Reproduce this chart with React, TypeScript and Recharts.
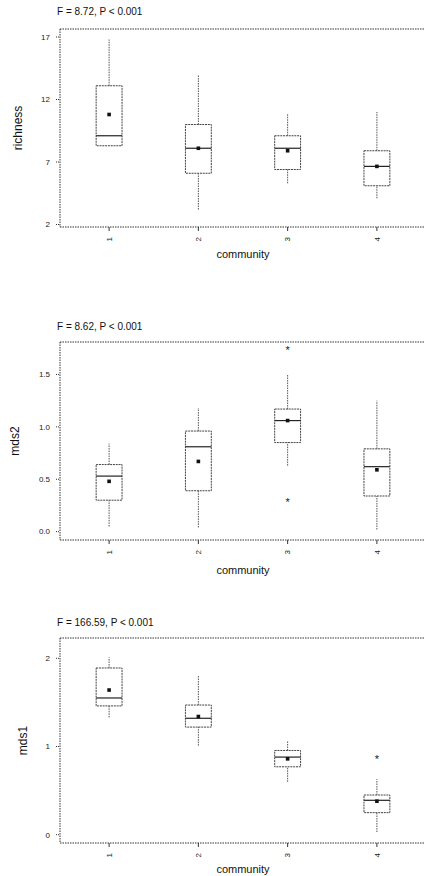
import React from 'react';
import { ComposedChart, XAxis, YAxis, Scatter, ReferenceArea, ReferenceLine } from 'recharts';

const communities = [1, 2, 3, 4];

// richness panel
const richnessLow = [8.3, 3.2, 5.3, 4.1];
const richnessQ1 = [8.3, 6.1, 6.4, 5.1];
const richnessMedian = [9.1, 8.1, 8.1, 6.65];
const richnessQ3 = [13.1, 10.0, 9.1, 7.9];
const richnessHigh = [16.8, 14.0, 10.9, 11.0];
const richnessMean = [10.8, 8.1, 7.9, 6.65];
const richnessOutliers: { x: number; y: number }[] = [];
const richnessTicks = [2, 7, 12, 17];

// mds2 panel
const mds2Low = [0.05, 0.04, 0.63, 0.02];
const mds2Q1 = [0.30, 0.39, 0.85, 0.34];
const mds2Median = [0.53, 0.81, 1.06, 0.62];
const mds2Q3 = [0.64, 0.96, 1.17, 0.79];
const mds2High = [0.84, 1.18, 1.5, 1.25];
const mds2Mean = [0.48, 0.67, 1.06, 0.59];
const mds2Outliers = [
  { x: 3, y: 1.73 },
  { x: 3, y: 0.28 },
];
const mds2Ticks = [0, 0.5, 1.0, 1.5];

// mds1 panel
const mds1Low = [1.33, 1.01, 0.6, 0.03];
const mds1Q1 = [1.46, 1.22, 0.77, 0.25];
const mds1Median = [1.55, 1.32, 0.88, 0.39];
const mds1Q3 = [1.89, 1.47, 0.955, 0.45];
const mds1High = [2.01, 1.8, 1.06, 0.63];
const mds1Mean = [1.64, 1.34, 0.86, 0.38];
const mds1Outliers = [{ x: 4, y: 0.86 }];
const mds1Ticks = [0, 1, 2];

const FONT = '"Liberation Sans", Arial, sans-serif';
const INK = '#333';
const HALF = 0.145;

const RotatedTick = (props: any) => {
  const { x, y, payload } = props;
  return (
    <g transform={`translate(${x},${y})`}>
      <text transform="rotate(-90)" textAnchor="end" dy="0.35em" fontSize={8} fill="#222" fontFamily={FONT}>
        {payload.value}
      </text>
    </g>
  );
};

const MeanDot = (props: any) => {
  const { cx, cy } = props;
  return <rect x={cx - 1.8} y={cy - 1.8} width={3.6} height={3.6} fill="#111" />;
};

const Star = (props: any) => {
  const { cx, cy } = props;
  return (
    <text x={cx} y={cy + 4} textAnchor="middle" fontSize={11} fill="#222" fontFamily={FONT}>
      *
    </text>
  );
};

interface PanelProps {
  top: number;
  plotTop: number;
  plotBottom: number;
  title: string;
  titleY: number;
  yLabel: string;
  yLabelX: number;
  labelOffset: number;
  domain: [number, number];
  ticks: number[];
  decimals: number;
  low: number[];
  q1: number[];
  median: number[];
  q3: number[];
  high: number[];
  mean: number[];
  outliers: { x: number; y: number }[];
}

const BoxPanel: React.FC<PanelProps> = (p) => {
  const means = communities.map((c, i) => ({ x: c, y: p.mean[i] }));
  const height = p.plotBottom + 45;
  return (
    <div style={{ position: 'absolute', left: 0, top: p.top, width: 440, height }}>
      <div
        style={{
          position: 'absolute',
          left: 57,
          top: p.titleY - 7,
          fontSize: 10,
          fontFamily: FONT,
          color: '#111',
          whiteSpace: 'nowrap',
          lineHeight: '14px',
        }}
      >
        {p.title}
      </div>
      <ComposedChart
        width={440}
        height={height}
        margin={{ top: p.plotTop, right: 14, bottom: 5, left: 0 }}
      >
        <XAxis
          type="number"
          dataKey="x"
          domain={[0.45, 4.55]}
          ticks={communities}
          allowDataOverflow
          height={40}
          tickSize={4}
          tickMargin={6}
          tick={<RotatedTick />}
          axisLine={{ stroke: INK, strokeDasharray: '1.5 1' }}
          tickLine={{ stroke: INK }}
          label={{
            value: 'community',
            position: 'insideBottom',
            offset: p.labelOffset,
            style: { fontSize: 11, fontFamily: FONT, fill: '#111' },
          }}
        />
        <YAxis
          type="number"
          dataKey="y"
          domain={p.domain}
          ticks={p.ticks}
          allowDataOverflow
          width={60}
          tickSize={4}
          tickMargin={6}
          tickFormatter={(v: number) => v.toFixed(p.decimals)}
          tick={{ fontSize: 8, fontFamily: FONT, fill: '#222' }}
          axisLine={{ stroke: INK, strokeDasharray: '1.5 1' }}
          tickLine={{ stroke: INK, strokeDasharray: '1 1' }}
          label={{
            value: p.yLabel,
            angle: -90,
            position: 'insideLeft',
            offset: p.yLabelX,
            style: { fontSize: 12, fontFamily: FONT, fill: '#111', textAnchor: 'middle' },
          }}
        />
        <ReferenceLine y={p.domain[1]} stroke={INK} strokeDasharray="1.5 1" />
        {communities.map((c, i) => (
          <ReferenceLine
            key={`wh-${c}`}
            segment={[
              { x: c, y: p.q3[i] },
              { x: c, y: p.high[i] },
            ]}
            stroke="#555"
            strokeDasharray="1.5 1"
          />
        ))}
        {communities.map((c, i) => (
          <ReferenceLine
            key={`wl-${c}`}
            segment={[
              { x: c, y: p.low[i] },
              { x: c, y: p.q1[i] },
            ]}
            stroke="#555"
            strokeDasharray="1.5 1"
          />
        ))}
        {communities.map((c, i) => (
          <ReferenceArea
            key={`box-${c}`}
            x1={c - HALF}
            x2={c + HALF}
            y1={p.q1[i]}
            y2={p.q3[i]}
            fill="none"
            fillOpacity={0}
            stroke="#444"
            strokeWidth={1}
            strokeDasharray="2 0.8"
          />
        ))}
        {communities.map((c, i) => (
          <ReferenceLine
            key={`med-${c}`}
            segment={[
              { x: c - HALF, y: p.median[i] },
              { x: c + HALF, y: p.median[i] },
            ]}
            stroke="#222"
            strokeWidth={1.2}
          />
        ))}
        <Scatter data={means} shape={<MeanDot />} isAnimationActive={false} />
        <Scatter data={p.outliers} shape={<Star />} isAnimationActive={false} />
      </ComposedChart>
    </div>
  );
};

export default function App() {
  return (
    <div
      style={{
        position: 'absolute',
        left: 0,
        top: 0,
        width: 424,
        height: 876,
        overflow: 'hidden',
        background: '#fff',
      }}
    >
      <BoxPanel
        top={0}
        plotTop={29}
        plotBottom={227}
        title="F = 8.72, P < 0.001"
        titleY={12}
        yLabel="richness"
        yLabelX={18}
        labelOffset={9}
        domain={[1.8, 17.64]}
        ticks={richnessTicks}
        decimals={0}
        low={richnessLow}
        q1={richnessQ1}
        median={richnessMedian}
        q3={richnessQ3}
        high={richnessHigh}
        mean={richnessMean}
        outliers={richnessOutliers}
      />
      <BoxPanel
        top={280}
        plotTop={62}
        plotBottom={260}
        title="F = 8.62, P < 0.001"
        titleY={47}
        yLabel="mds2"
        yLabelX={15}
        labelOffset={6}
        domain={[-0.08, 1.81]}
        ticks={mds2Ticks}
        decimals={1}
        low={mds2Low}
        q1={mds2Q1}
        median={mds2Median}
        q3={mds2Q3}
        high={mds2High}
        mean={mds2Mean}
        outliers={mds2Outliers}
      />
      <BoxPanel
        top={590}
        plotTop={48}
        plotBottom={253}
        title="F = 166.59, P < 0.001"
        titleY={33}
        yLabel="mds1"
        yLabelX={23}
        labelOffset={10}
        domain={[-0.094, 2.23]}
        ticks={mds1Ticks}
        decimals={0}
        low={mds1Low}
        q1={mds1Q1}
        median={mds1Median}
        q3={mds1Q3}
        high={mds1High}
        mean={mds1Mean}
        outliers={mds1Outliers}
      />
    </div>
  );
}
